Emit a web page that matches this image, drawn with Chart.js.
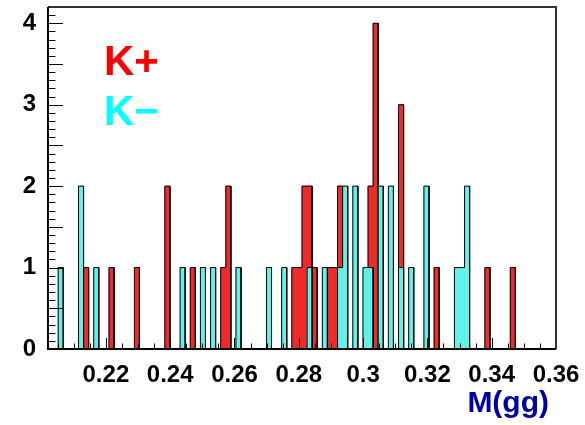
<!DOCTYPE html>
<html><head><meta charset="utf-8">
<script src="https://cdn.jsdelivr.net/npm/chart.js@4/dist/chart.umd.min.js"></script>
<style>html,body{margin:0;padding:0;background:#fff;}</style>
</head><body>
<canvas id="c" width="585" height="425"></canvas>
<script>
// Histogram binning (100 bins)
const HIST_MIN = 0.202, HIST_MAX = 0.36, N_BINS = 100;

// K+ : bin centres (GeV) and entries
const kPlusMass = [0.21385, 0.22175, 0.22965, 0.23913, 0.24703, 0.25651, 0.25809, 0.27863, 0.28021, 0.28179,
                   0.28337, 0.28495, 0.28969, 0.29127, 0.29285, 0.30233, 0.30391, 0.31181, 0.32287, 0.33867, 0.34657];
const kPlusCounts = [1, 1, 1, 2, 1, 1, 2, 1, 1, 2, 2, 1, 1, 1, 2, 2, 4, 3, 1, 1, 1];

// K- : bin centres (GeV) and entries
const kMinusMass = [0.20595, 0.21227, 0.21701, 0.24387, 0.25019, 0.25335, 0.26125, 0.27073, 0.27547, 0.28337,
                    0.28811, 0.29285, 0.29443, 0.29759, 0.30075, 0.30233, 0.30549, 0.30865, 0.31181, 0.31497,
                    0.31971, 0.32919, 0.33077, 0.33235];
const kMinusCounts = [1, 2, 1, 1, 1, 1, 1, 1, 1, 1, 1, 1, 2, 2, 1, 1, 2, 2, 1, 1, 2, 1, 1, 2];

const xTickValues = [0.22, 0.24, 0.26, 0.28, 0.30, 0.32, 0.34, 0.36];
const xTickLabels = ['0.22', '0.24', '0.26', '0.28', '0.3', '0.32', '0.34', '0.36'];
const yTickValues = [0, 1, 2, 3, 4];
const yTickLabels = ['0', '1', '2', '3', '4'];
const seriesNames = ['K+', 'K\u2212'];
const xTitle = 'M(gg)';

const BIN_W = (HIST_MAX - HIST_MIN) / N_BINS;
function fillBins(mass, counts) {
  const a = new Array(N_BINS).fill(0);
  mass.forEach((m, k) => { a[Math.floor((m - HIST_MIN) / BIN_W)] += counts[k]; });
  return a;
}
function barPoints(bins) { return bins.map((c, i) => ({x: HIST_MIN + (i + 0.5) * BIN_W, y: c})); }
function outlinePoints(bins) {
  const p = [];
  bins.forEach((c, i) => { p.push({x: HIST_MIN + i * BIN_W, y: c}); p.push({x: HIST_MIN + (i + 1) * BIN_W, y: c}); });
  return p;
}
const kPlusBins = fillBins(kPlusMass, kPlusCounts);
const kMinusBins = fillBins(kMinusMass, kMinusCounts);

const RED = '#ee2a2a', CYAN = '#5ef2ea';
const FONT = "'Liberation Sans', Arial, Helvetica, sans-serif";

const rootAxes = {
  id: 'rootAxes',
  afterDatasetsDraw(chart) {
    const {ctx, chartArea: a, scales: {x, y}} = chart;
    ctx.save();
    ctx.strokeStyle = '#000';
    ctx.lineWidth = 1;
    ctx.beginPath();
    for (let n = 41; n <= 72; n++) {
      const px = Math.round(x.getPixelForValue(n * 0.005)) + 0.5;
      if (px < a.left || px > a.right) continue;
      const len = (n % 4 === 0) ? 11 : 5.5;
      ctx.moveTo(px, a.bottom); ctx.lineTo(px, a.bottom - len);
    }
    for (let n = 0; n <= 42; n++) {
      const py = Math.round(y.getPixelForValue(n * 0.1)) + 0.5;
      const len = (n % 5 === 0) ? 15 : 7.5;
      ctx.moveTo(a.left, py); ctx.lineTo(a.left + len, py);
    }
    ctx.stroke();
    // frame
    ctx.lineWidth = 2;
    ctx.strokeStyle = '#333';
    ctx.beginPath();
    ctx.moveTo(a.left, a.top); ctx.lineTo(a.right, a.top); ctx.lineTo(a.right, a.bottom);
    ctx.stroke();
    ctx.strokeStyle = '#000';
    ctx.beginPath();
    ctx.moveTo(a.left, a.top); ctx.lineTo(a.left, a.bottom); ctx.lineTo(a.right, a.bottom);
    ctx.stroke();
    ctx.restore();
  },
  afterDraw(chart) {
    const {ctx} = chart;
    ctx.save();
    ctx.textBaseline = 'alphabetic';
    ctx.textAlign = 'left';
    ctx.font = 'bold 42px ' + FONT;
    ctx.fillStyle = '#ff0000';
    ctx.fillText(seriesNames[0], 104, 75);
    ctx.fillStyle = '#00ffff';
    ctx.fillText(seriesNames[1], 104, 125);
    ctx.font = 'bold 30px ' + FONT;
    ctx.fillStyle = '#0000aa';
    ctx.textAlign = 'right';
    ctx.fillText(xTitle, 549, 412);
    ctx.restore();
  }
};

new Chart(document.getElementById('c'), {
  type: 'bar',
  data: {
    datasets: [
      {type: 'line', label: 'K- outline', data: outlinePoints(kMinusBins), borderColor: '#000', borderWidth: 1,
       pointRadius: 0, fill: false, tension: 0, order: 0},
      {label: seriesNames[1], data: barPoints(kMinusBins), backgroundColor: CYAN, borderWidth: 0,
       barPercentage: 1, categoryPercentage: 1, grouped: false, order: 1},
      {type: 'line', label: 'K+ outline', data: outlinePoints(kPlusBins), borderColor: '#000', borderWidth: 1,
       pointRadius: 0, fill: false, tension: 0, order: 2},
      {label: seriesNames[0], data: barPoints(kPlusBins), backgroundColor: RED, borderWidth: 0,
       barPercentage: 1, categoryPercentage: 1, grouped: false, order: 3}
    ]
  },
  options: {
    responsive: false,
    animation: false,
    devicePixelRatio: 1,
    layout: {padding: {left: 0, right: 29, top: 7, bottom: 0}},
    plugins: {legend: {display: false}, tooltip: {enabled: false}},
    scales: {
      x: {
        type: 'linear', min: HIST_MIN, max: HIST_MAX, offset: false,
        grid: {display: false, drawTicks: false, offset: false}, border: {display: false},
        afterBuildTicks: s => { s.ticks = xTickValues.map(v => ({value: v})); },
        afterFit: s => { s.height = 76; s.paddingLeft = 0; s.paddingRight = 0; },
        ticks: {
          autoSkip: false, maxRotation: 0, padding: 12, color: '#000',
          font: {family: FONT, weight: 'bold', size: 24},
          callback: (v) => { const i = xTickValues.findIndex(t => Math.abs(t - v) < 1e-9); return i >= 0 ? xTickLabels[i] : ''; }
        }
      },
      y: {
        type: 'linear', min: 0, max: 4.2,
        grid: {display: false, drawTicks: false}, border: {display: false},
        afterBuildTicks: s => { s.ticks = yTickValues.map(v => ({value: v})); },
        afterFit: s => { s.width = 48; s.paddingTop = 0; s.paddingBottom = 0; },
        ticks: {
          padding: 12, color: '#000',
          font: {family: FONT, weight: 'bold', size: 24},
          callback: (v) => { const i = yTickValues.indexOf(v); return i >= 0 ? yTickLabels[i] : ''; }
        }
      }
    }
  },
  plugins: [rootAxes]
});
</script>
</body></html>
